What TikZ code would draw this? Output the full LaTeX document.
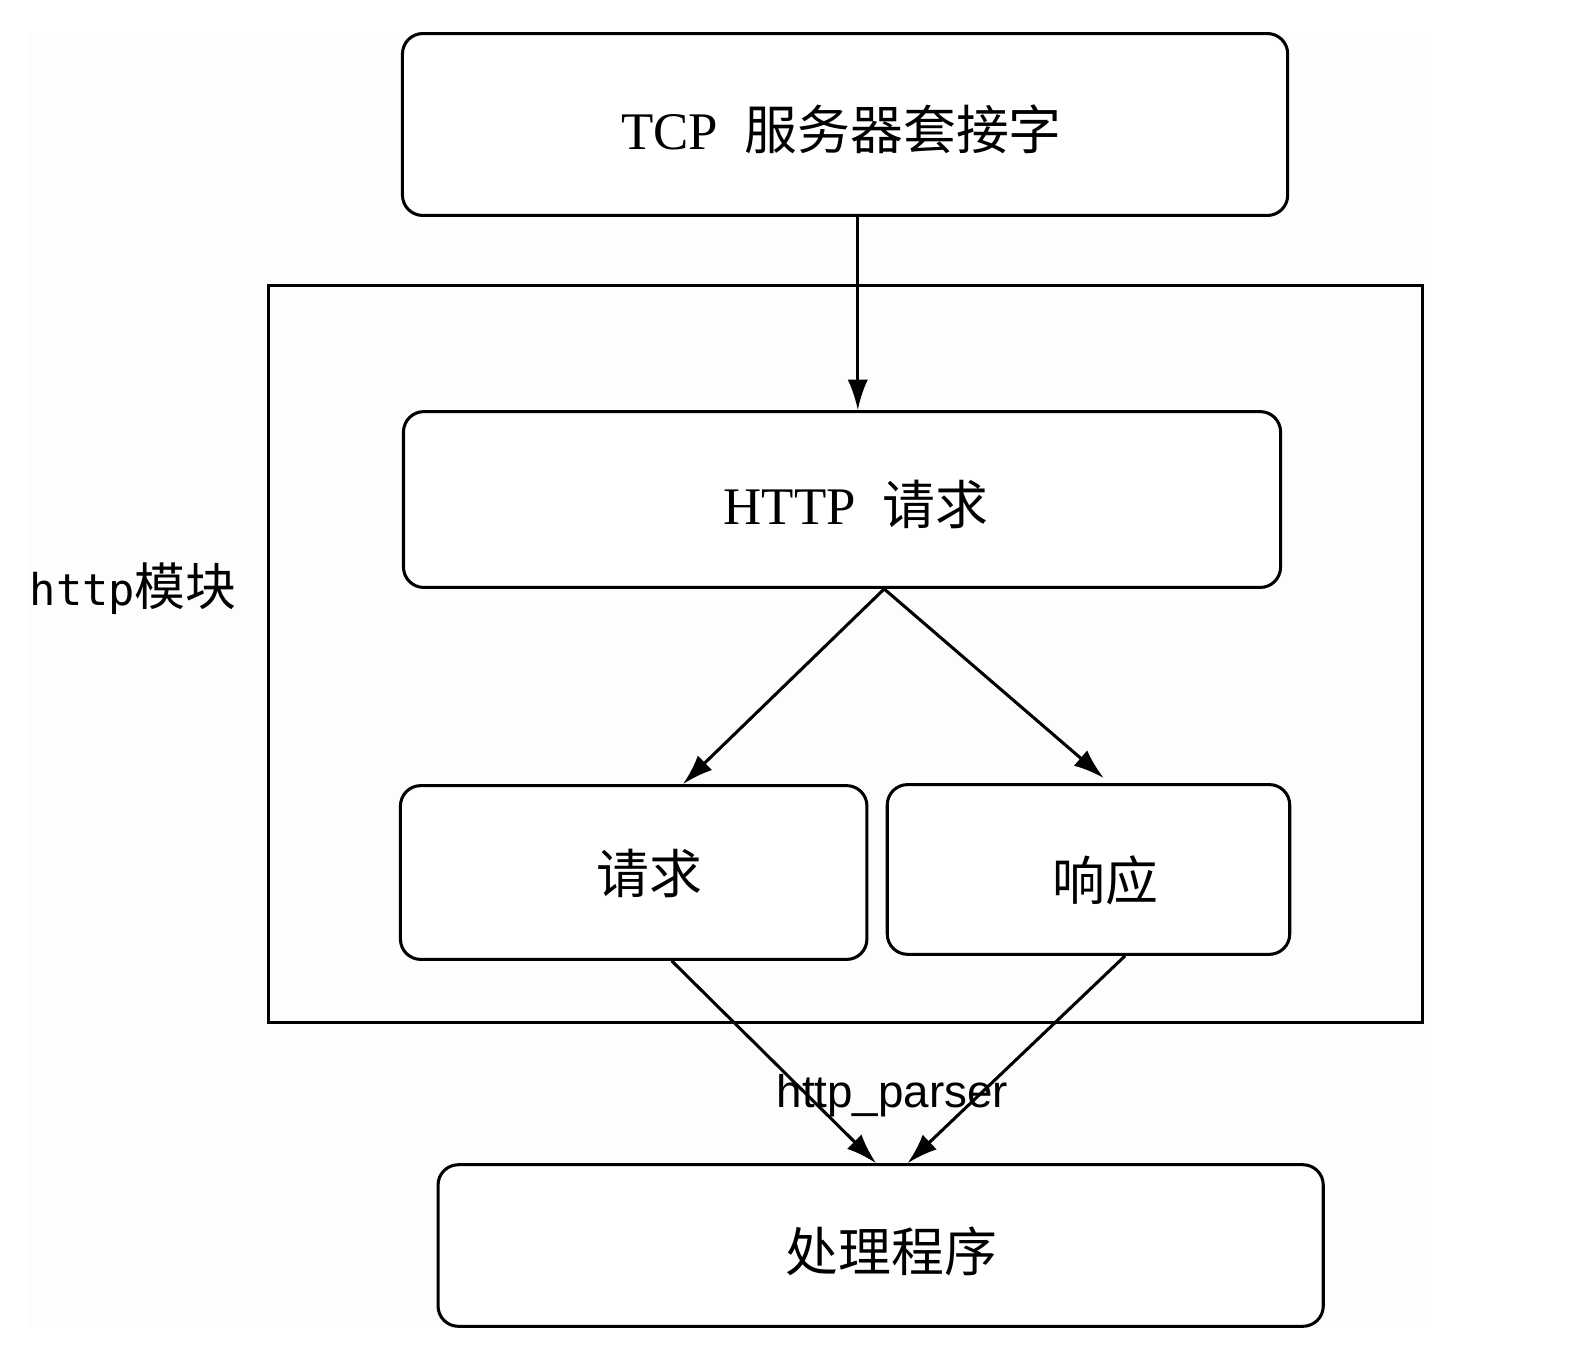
\documentclass[tikz,border=0pt]{standalone}
\usepackage{fontspec}
\setmainfont{Liberation Serif}
\newfontfamily\cjk{Noto Sans CJK SC}
\newfontfamily\monof{DejaVu Sans Mono}
\newfontfamily\sansf{Liberation Sans}
\usetikzlibrary{arrows.meta}
\tikzset{
  box/.style={draw=black, line width=3pt, rounded corners=20pt, rectangle, inner sep=0pt, fill=white},
  frame/.style={draw=black, line width=3pt, rectangle, inner sep=0pt},
  txt/.style={inner sep=0pt, anchor=base, font=\fontsize{52}{60}\selectfont},
  conn/.style={line width=3pt, -{Latex[length=30pt,width=20pt]}},
}
\begin{document}
\begin{tikzpicture}[x=1pt,y=-1pt]
\useasboundingbox (0,0) rectangle (1568.4,1338.2);
\fill[fill={rgb,255:red,253;green,253;blue,253}] (27.6,31.5) rectangle (1402,1306.7);
% outer module frame
\node[frame, minimum width=1136pt, minimum height=725pt] (mod) at (832,643.5) {};
% boxes
\node[box, minimum width=871pt, minimum height=179pt] (tcp) at (831.5,122.5) {};
\node[box, minimum width=863pt, minimum height=173pt] (http) at (828.5,491.5) {};
\node[box, minimum width=459pt, minimum height=171pt] (req) at (623.5,858.5) {};
\node[box, minimum width=396pt, minimum height=167pt] (resp) at (1071,855.5) {};
\node[box, minimum width=871pt, minimum height=159pt] (proc) at (866.5,1225.5) {};
% texts
\node[txt] (tcpt) at (828,147) {TCP\hspace{0.5em}{\cjk 服务器套接字}};
\node[txt] (httpt) at (842,516) {HTTP\hspace{0.5em}{\cjk 请求}};
\node[txt] (reqt) at (639,879) {\cjk 请求};
\node[txt] (respt) at (1088,886) {\cjk 响应};
\node[txt] (proct) at (877,1251) {\cjk 处理程序};
\node[inner sep=0pt, anchor=base] (modt) at (131,596) {{\monof\fontsize{43}{50}\selectfont http}{\cjk\fontsize{50}{56}\selectfont 模块}};
% connectors
\draw[conn] ([xshift=12.5pt]tcp.south) -- ([xshift=15.5pt]http.north);
\draw[conn] ([xshift=41.5pt]http.south) -- ([xshift=48.5pt]req.north);
\draw[conn] ([xshift=41.5pt]http.south) -- ([xshift=15pt,yshift=5pt]resp.north);
\draw[conn] ([xshift=37.5pt]req.south) -- ([xshift=-4.5pt]proc.north);
\draw[conn] ([xshift=36pt]resp.south) -- ([xshift=26.5pt]proc.north);
\node[inner sep=0pt, anchor=base, font=\sansf\fontsize{45}{54}\selectfont] (parser) at (878,1090) {http\_parser};
\end{tikzpicture}
\end{document}
